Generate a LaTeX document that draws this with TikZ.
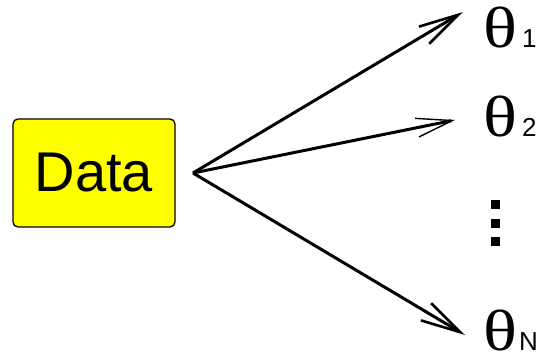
\documentclass[tikz,border=0pt]{standalone}
\usepackage{fontspec}
\usepackage{graphicx}
\setmainfont{Liberation Sans}
\newfontfamily\greekfont{Liberation Serif}
\newcommand{\idxfont}{\normalfont\fontsize{26}{26}\selectfont}
\newcommand{\thetasym}{\scalebox{1.22}[1]{θ}}
\definecolor{boxyellow}{RGB}{255,255,0}
\usetikzlibrary{arrows.meta, positioning}

\begin{document}
\begin{tikzpicture}[x=1pt, y=-1pt,
		block/.style={
			rectangle,
			draw=black,
			fill=boxyellow,
			line width=1.3pt,
			minimum width=162pt,
			minimum height=108pt,
			rounded corners=5pt,
			inner sep=0pt,
			font=\fontsize{56}{56}\selectfont
		},
		param/.style={
			inner sep=0pt,
			anchor=base west,
			font=\greekfont\fontsize{58}{58}\selectfont
		},
		arrow/.style={-{Straight Barb[length=40pt, width=20pt, line width=2.6pt]}, line width=3pt},
		dot/.style={fill=black, inner sep=0pt, minimum size=9pt}]
		
		\useasboundingbox (0,0) rectangle (539,358);
		
		\node [param] (t1) at (483,48) {\thetasym\kern5pt{\idxfont 1}};
		\node [param] (t2) at (483,137) {\thetasym\kern5pt{\idxfont 2}};
		\node [param] (tN) at (483,351) {\thetasym\kern2pt{\idxfont N}};
		
		\node [block] (data) at (94,173) {Data};
		\coordinate (src) at (193,173);
		
		\node [dot] (d1) at (495,205) {};
		\node [dot] (d2) at (495,224) {};
		\node [dot] (d3) at (495,242) {};
		
		\coordinate (tip1) at (463,12);
		\coordinate (tip2) at (455,120);
		\coordinate (tipN) at (465,335);
		
		\draw [arrow] (src) -- (tip1);
		\draw [arrow, -{Straight Barb[length=36pt, width=19pt, line width=1.4pt]}] (src) -- (tip2);
		\draw [arrow] (src) -- (tipN);
	\end{tikzpicture}
\end{document}
